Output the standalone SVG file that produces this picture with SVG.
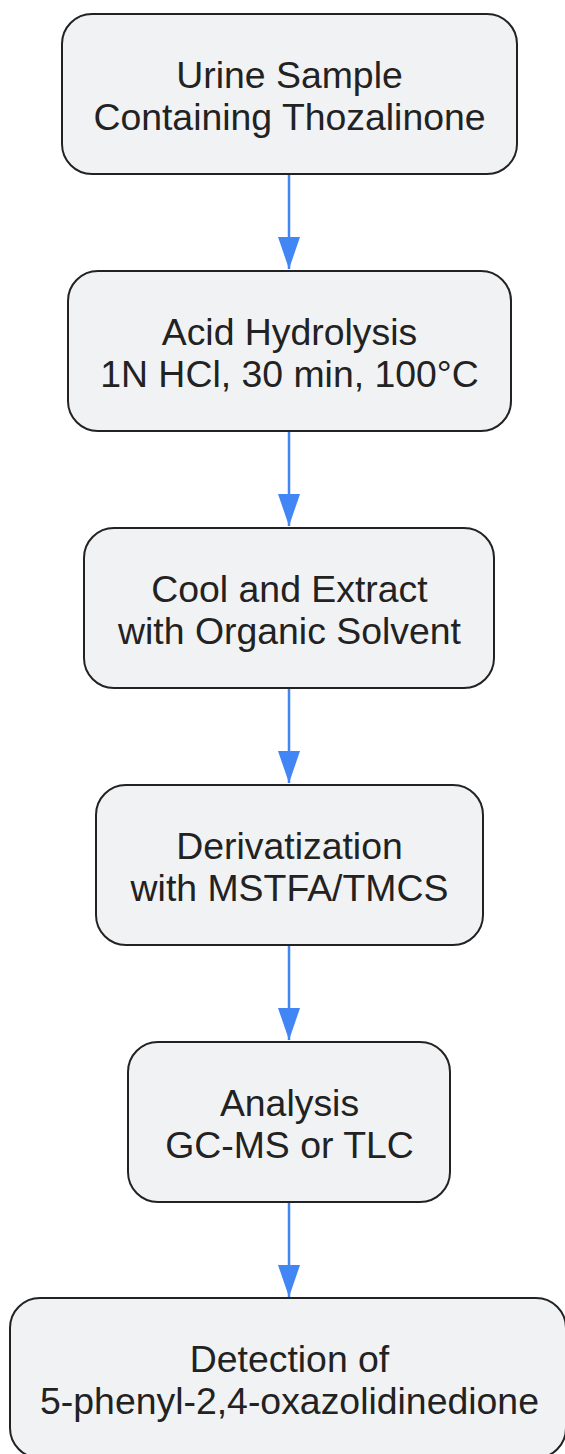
<svg xmlns="http://www.w3.org/2000/svg" width="565" height="1454" viewBox="0 0 565 1454">
<style>
.box{fill:#f1f2f4;stroke:#222;stroke-width:2}
.t{font-family:"Liberation Sans",Arial,sans-serif;font-size:37.4px;fill:#222;text-anchor:middle}
.e{stroke:#4285f4;stroke-width:2.5;fill:none}
</style>
<defs>
<marker id="ah" viewBox="0 0 32 22" refX="32" refY="11" markerWidth="32" markerHeight="22" markerUnits="userSpaceOnUse" orient="auto">
<path d="M0,0 L32,11 L0,22 Z" fill="#4285f4"/>
</marker>
</defs>
<rect width="565" height="1454" fill="#fff"/>
<g id="connectors">
<line class="e" x1="289" y1="175" x2="289" y2="269" marker-end="url(#ah)"/>
<line class="e" x1="289" y1="432" x2="289" y2="526" marker-end="url(#ah)"/>
<line class="e" x1="289" y1="689" x2="289" y2="783" marker-end="url(#ah)"/>
<line class="e" x1="289" y1="946" x2="289" y2="1040" marker-end="url(#ah)"/>
<line class="e" x1="289" y1="1202" x2="289" y2="1297" marker-end="url(#ah)"/>
</g>
<g id="n1">
<rect class="box" x="62" y="14" width="455" height="160" rx="30"/>
<text class="t" x="289.5" y="88">Urine Sample</text>
<text class="t" x="289.5" y="130">Containing Thozalinone</text>
</g>
<g id="n2">
<rect class="box" x="68" y="271" width="443" height="160" rx="30"/>
<text class="t" x="289.5" y="345">Acid Hydrolysis</text>
<text class="t" x="289.5" y="387">1N HCl, 30 min, 100°C</text>
</g>
<g id="n3">
<rect class="box" x="84" y="528" width="410" height="160" rx="30"/>
<text class="t" x="289.5" y="602">Cool and Extract</text>
<text class="t" x="289.5" y="644">with Organic Solvent</text>
</g>
<g id="n4">
<rect class="box" x="96" y="785" width="387" height="160" rx="30"/>
<text class="t" x="289.5" y="859">Derivatization</text>
<text class="t" x="289.5" y="901">with MSTFA/TMCS</text>
</g>
<g id="n5">
<rect class="box" x="128" y="1042" width="322" height="160" rx="30"/>
<text class="t" x="289.5" y="1116">Analysis</text>
<text class="t" x="289.5" y="1158">GC-MS or TLC</text>
</g>
<g id="n6">
<rect class="box" x="10" y="1298" width="556" height="160" rx="30"/>
<text class="t" x="289.5" y="1372">Detection of</text>
<text class="t" x="289.5" y="1414">5-phenyl-2,4-oxazolidinedione</text>
</g>
</svg>
